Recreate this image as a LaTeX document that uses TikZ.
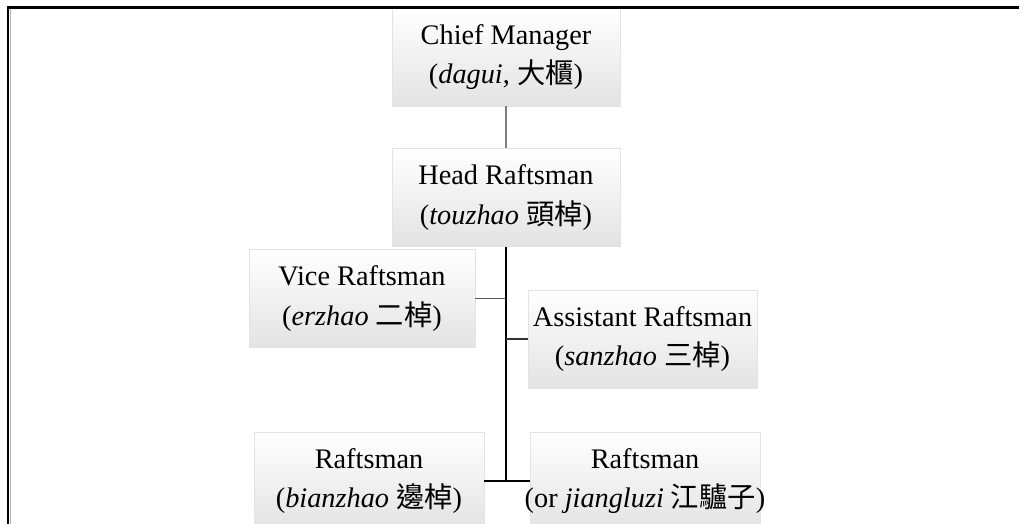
\documentclass[tikz,border=0pt]{standalone}
\usepackage{fontspec}
\setmainfont{Liberation Serif}
\newfontfamily\cjk{Noto Sans CJK TC}
\newcommand{\zh}[1]{{\cjk #1}}
\usepackage{tikz}

\begin{document}
\begin{tikzpicture}[x=1pt,y=-1pt,
  rankbox/.style={rectangle,draw=gray!22,line width=0.8pt,
    top color=white,middle color=white,bottom color=gray!22,
    minimum width=228pt,minimum height=98pt,inner sep=0pt,
    align=center,font=\fontsize{28.3}{39.5}\selectfont},
  link/.style={line width=1.3pt}]
\useasboundingbox (0,0) rectangle (1026,524);
\clip (0,0) rectangle (1026,524);
\node[rankbox] (chief) at (506,57) {Chief Manager\\(\textit{dagui}, \zh{大櫃})};
\node[rankbox] (head) at (506,197.5) {Head Raftsman\\(\textit{touzhao} \zh{頭棹})};
\node[rankbox,minimum width=226pt] (vice) at (362,298.5) {Vice Raftsman\\(\textit{erzhao} \zh{二棹})};
\node[rankbox,minimum width=229pt] (assist) at (642.5,339) {Assistant Raftsman\\(\textit{sanzhao} \zh{三棹})};
\node[rankbox,minimum width=230pt] (bian) at (369,481) {Raftsman\\(\textit{bianzhao} \zh{邊棹})};
\node[rankbox,minimum width=230pt] (jiang) at (645,481) {Raftsman\\\makebox[200pt]{(or \textit{jiangluzi} \zh{江驢子})}};
% connectors
\draw[link,gray] (chief.south) -- (head.north);
\coordinate (foot) at (head.south |- bian.east);
\draw[link] (head.south) -- (foot);
\draw[link,gray!70!black] (vice.east) -- (vice.east -| head.south);
\draw[link,gray!40!black] (assist.west) -- (assist.west -| head.south);
\draw[link] (bian.east) -- (jiang.west);
% frame
\draw[gray!60,line width=1pt] (10.5,9) -- (10.5,524);
\draw[line width=2.2pt] (8,524) -- (8,7.5) -- (1019,7.5);
\end{tikzpicture}
\end{document}
